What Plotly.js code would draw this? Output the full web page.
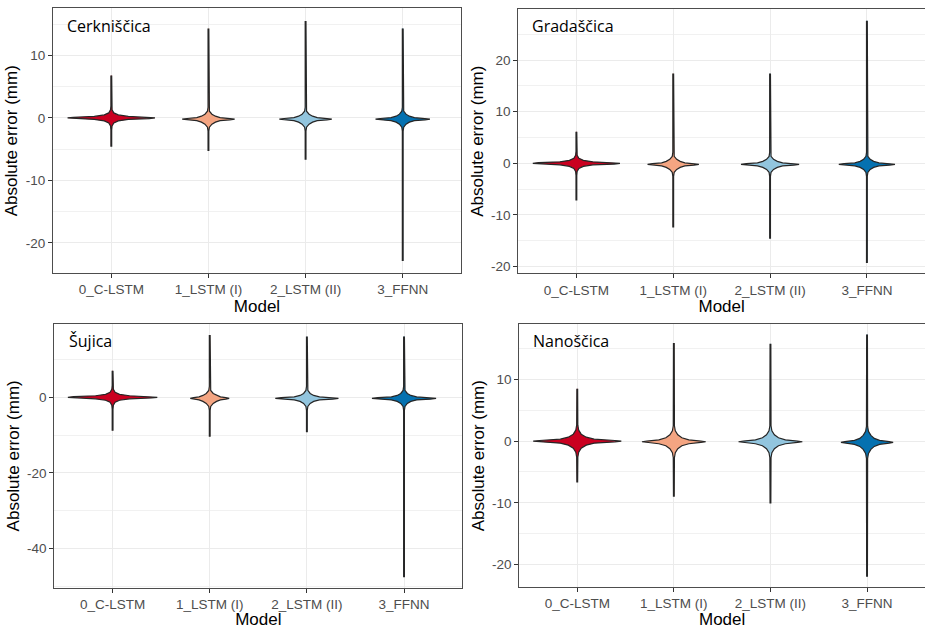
<!DOCTYPE html>
<html>
<head>
<meta charset="utf-8">
<script src="https://cdn.plot.ly/plotly-3.0.1.min.js"></script>
<style>html,body{margin:0;padding:0;background:#fff}#chart{width:925px;height:629px}</style>
</head>
<body>
<div id="chart"></div>
<script>
// ---- categories, colours, panel names ----
const models = ['0_C-LSTM', '1_LSTM (I)', '2_LSTM (II)', '3_FFNN'];
const modelColors = ['#CA0020', '#F4A582', '#92C5DE', '#0571B0'];
const catchments = ['Cerkniščica', 'Gradaščica', 'Šujica', 'Nanoščica'];

// ---- violin extents (mm) ----
const cerknicaTop    = [6.8, 14.3, 15.5, 14.3];
const cerknicaBottom = [-4.5, -5.2, -6.6, -22.8];
const cerknicaCenter = [0.0, -0.2, -0.2, -0.2];
const gradascicaTop    = [6.1, 17.4, 17.4, 27.6];
const gradascicaBottom = [-7.1, -12.3, -14.5, -19.2];
const gradascicaCenter = [0.0, -0.2, -0.2, -0.2];
const sujicaTop    = [7.0, 16.5, 16.1, 16.1];
const sujicaBottom = [-8.7, -10.3, -9.1, -47.5];
const sujicaCenter = [0.0, -0.3, -0.3, -0.3];
const nanoscicaTop    = [8.5, 15.9, 15.8, 17.3];
const nanoscicaBottom = [-6.6, -8.9, -10.0, -21.9];
const nanoscicaCenter = [0.0, -0.1, -0.1, -0.2];

// ---- density profile near the mode: y offsets (mm) and half widths (category units) ----
const cerknicaOffsets = [1.91, 1.28, 0.80, 0.48, 0.24, 0.11, 0, -0.11, -0.24, -0.48, -0.80, -1.28, -1.91];
const cerknicaWidths = [
  [0.004, 0.008, 0.026, 0.072, 0.175, 0.39, 0.45, 0.39, 0.175, 0.072, 0.026, 0.008, 0.004],
  [0.004, 0.010, 0.036, 0.072, 0.12, 0.22, 0.27, 0.22, 0.12, 0.072, 0.036, 0.010, 0.004],
  [0.004, 0.010, 0.036, 0.072, 0.12, 0.22, 0.27, 0.22, 0.12, 0.072, 0.036, 0.010, 0.004],
  [0.004, 0.010, 0.034, 0.068, 0.12, 0.23, 0.28, 0.23, 0.12, 0.068, 0.034, 0.010, 0.004]
];
const gradascicaOffsets = [2.33, 1.55, 0.97, 0.58, 0.29, 0.14, 0, -0.14, -0.29, -0.58, -0.97, -1.55, -2.33];
const gradascicaWidths = [
  [0.004, 0.008, 0.026, 0.072, 0.17, 0.39, 0.45, 0.39, 0.17, 0.072, 0.026, 0.008, 0.004],
  [0.004, 0.010, 0.036, 0.072, 0.12, 0.215, 0.265, 0.215, 0.12, 0.072, 0.036, 0.010, 0.004],
  [0.004, 0.010, 0.036, 0.075, 0.13, 0.245, 0.30, 0.245, 0.13, 0.075, 0.036, 0.010, 0.004],
  [0.004, 0.010, 0.034, 0.07, 0.125, 0.235, 0.29, 0.235, 0.125, 0.07, 0.034, 0.010, 0.004]
];
const sujicaOffsets = [3.18, 2.12, 1.32, 0.79, 0.40, 0.19, 0, -0.19, -0.40, -0.79, -1.32, -2.12, -3.18];
const sujicaWidths = [
  [0.004, 0.008, 0.026, 0.072, 0.175, 0.40, 0.46, 0.40, 0.175, 0.072, 0.026, 0.008, 0.004],
  [0.004, 0.010, 0.036, 0.07, 0.11, 0.165, 0.20, 0.165, 0.11, 0.07, 0.036, 0.010, 0.004],
  [0.004, 0.010, 0.034, 0.07, 0.13, 0.265, 0.325, 0.265, 0.13, 0.07, 0.034, 0.010, 0.004],
  [0.004, 0.010, 0.034, 0.07, 0.13, 0.27, 0.33, 0.27, 0.13, 0.07, 0.034, 0.010, 0.004]
];
const nanoscicaOffsets = [2.59, 1.78, 1.13, 0.65, 0.32, 0.11, 0, -0.11, -0.32, -0.65, -1.13, -1.78, -2.59];
const nanoscicaWidths = [
  [0.006, 0.015, 0.041, 0.093, 0.175, 0.39, 0.456, 0.39, 0.175, 0.093, 0.041, 0.015, 0.006],
  [0.006, 0.015, 0.041, 0.083, 0.155, 0.28, 0.33, 0.28, 0.155, 0.083, 0.041, 0.015, 0.006],
  [0.006, 0.015, 0.041, 0.083, 0.155, 0.28, 0.33, 0.28, 0.155, 0.083, 0.041, 0.015, 0.006],
  [0.006, 0.015, 0.040, 0.075, 0.13, 0.23, 0.27, 0.23, 0.13, 0.075, 0.040, 0.015, 0.006]
];
const tailWidth = 0.004;

// ---- axis ranges and tick labels ----
const yRanges = [[-24.8, 17.5], [-21.3, 29.9], [-50.4, 19.4], [-23.7, 19.0]];
const yTickVals = [[-20, -10, 0, 10], [-20, -10, 0, 10, 20], [-40, -20, 0], [-20, -10, 0, 10]];
const yTickText = [['-20', '-10', '0', '10'], ['-20', '-10', '0', '10', '20'], ['-40', '-20', '0'], ['-20', '-10', '0', '10']];
const yMinorStep = [5, 5, 10, 5];

const panels = [
  {top: cerknicaTop, bottom: cerknicaBottom, center: cerknicaCenter, off: cerknicaOffsets, w: cerknicaWidths},
  {top: gradascicaTop, bottom: gradascicaBottom, center: gradascicaCenter, off: gradascicaOffsets, w: gradascicaWidths},
  {top: sujicaTop, bottom: sujicaBottom, center: sujicaCenter, off: sujicaOffsets, w: sujicaWidths},
  {top: nanoscicaTop, bottom: nanoscicaBottom, center: nanoscicaCenter, off: nanoscicaOffsets, w: nanoscicaWidths}
];

const traces = [];
panels.forEach((p, pi) => {
  const xa = pi === 0 ? 'x' : 'x' + (pi + 1);
  const ya = pi === 0 ? 'y' : 'y' + (pi + 1);
  models.forEach((m, mi) => {
    const xs = [], ys = [];
    // right side, top -> bottom
    xs.push(mi + tailWidth); ys.push(p.top[mi]);
    p.off.forEach((o, k) => { xs.push(mi + p.w[mi][k]); ys.push(p.center[mi] + o); });
    xs.push(mi + tailWidth); ys.push(p.bottom[mi]);
    // left side, bottom -> top
    xs.push(mi - tailWidth); ys.push(p.bottom[mi]);
    for (let k = p.off.length - 1; k >= 0; k--) { xs.push(mi - p.w[mi][k]); ys.push(p.center[mi] + p.off[k]); }
    xs.push(mi - tailWidth); ys.push(p.top[mi]);
    traces.push({
      type: 'scatter', mode: 'lines', x: xs, y: ys, xaxis: xa, yaxis: ya,
      fill: 'toself', fillcolor: modelColors[mi],
      line: {color: '#262626', width: 1.2},
      name: m, showlegend: false, hoverinfo: 'skip'
    });
  });
});

const tickFont = {family: 'Liberation Sans, Arial, sans-serif', size: 13.5, color: '#4D4D4D'};
const titleFont = {family: 'Liberation Sans, Arial, sans-serif', size: 17, color: '#000000'};
const xDomains = [[0.0573, 0.4984], [0.5603, 1.0], [0.0587, 0.4998], [0.5614, 1.0]];
const yDomains = [[0.566, 0.9865], [0.5655, 0.9857], [0.0657, 0.4849], [0.0663, 0.4849]];

const layout = {
  width: 925, height: 629,
  margin: {l: 0, r: 0, t: 0, b: 0},
  paper_bgcolor: '#ffffff', plot_bgcolor: '#ffffff',
  showlegend: false,
  annotations: []
};
for (let i = 0; i < 4; i++) {
  const sfx = i === 0 ? '' : String(i + 1);
  layout['xaxis' + sfx] = {
    domain: xDomains[i], anchor: 'y' + sfx, range: [-0.6, 3.6],
    tickmode: 'array', tickvals: [0, 1, 2, 3], ticktext: models,
    ticks: 'outside', ticklen: 4, tickcolor: '#333333', tickwidth: 1,
    tickfont: tickFont,
    showgrid: true, gridcolor: '#EBEBEB', gridwidth: 1, zeroline: false,
    showline: true, mirror: true, linecolor: '#4d4d4d', linewidth: 1,
    title: {text: 'Model', font: titleFont, standoff: 2}
  };
  layout['yaxis' + sfx] = {
    domain: yDomains[i], anchor: 'x' + sfx, range: yRanges[i],
    tickmode: 'array', tickvals: yTickVals[i], ticktext: yTickText[i],
    ticks: 'outside', ticklen: 4, tickcolor: '#333333', tickwidth: 1,
    tickfont: tickFont,
    showgrid: true, gridcolor: '#EBEBEB', gridwidth: 1, zeroline: false,
    minor: {dtick: yMinorStep[i], tick0: 0, showgrid: true, gridcolor: '#EBEBEB', gridwidth: 0.7, ticks: ''},
    showline: true, mirror: true, linecolor: '#4d4d4d', linewidth: 1,
    title: {text: 'Absolute error (mm)', font: titleFont, standoff: 3}
  };
  layout.annotations.push({
    text: catchments[i], xref: 'x' + sfx + ' domain', yref: 'y' + sfx + ' domain',
    x: 0.03, y: 0.935, xanchor: 'left', yanchor: 'middle', showarrow: false,
    font: {family: 'Open Sans, Noto Sans, sans-serif', size: 16, color: '#000000'}
  });
}

Plotly.newPlot('chart', traces, layout, {staticPlot: true, displayModeBar: false});
</script>
</body>
</html>
